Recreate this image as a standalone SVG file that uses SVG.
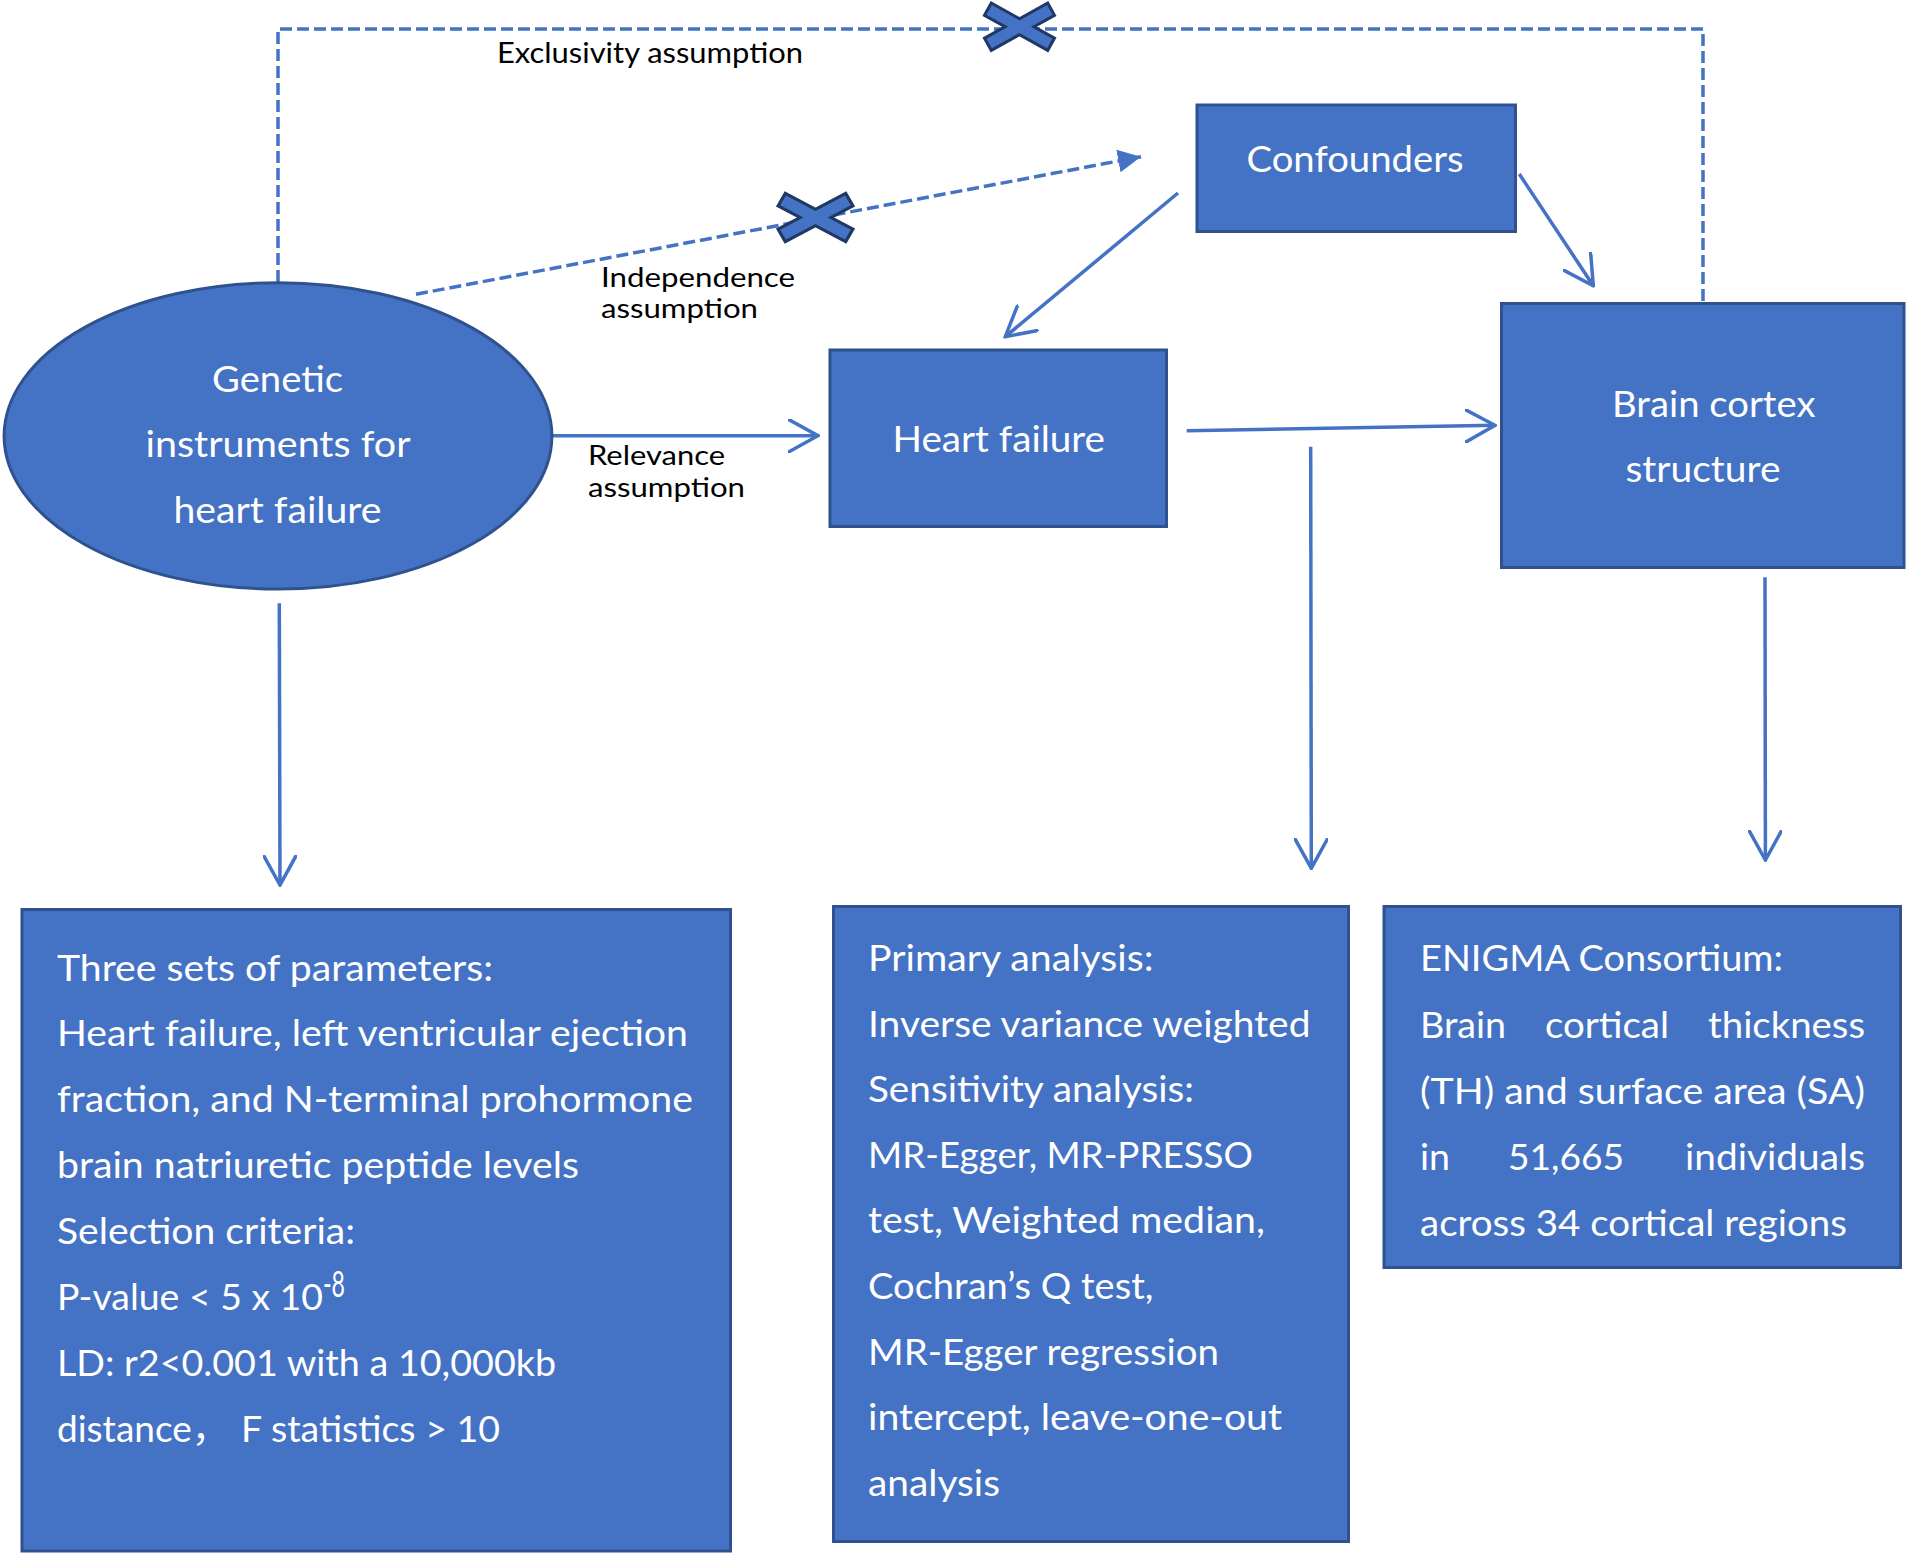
<svg xmlns="http://www.w3.org/2000/svg" xmlns:xlink="http://www.w3.org/1999/xlink" width="1908" height="1556" viewBox="0 0 1908 1556">
<style>
.bg{fill:#ffffff}
.box{fill:#4472C4;stroke:#2F528F;stroke-width:3}
.ln{fill:none;stroke:#4472C4;stroke-width:3.5;stroke-linecap:butt}
.dash{fill:none;stroke:#4472C4;stroke-width:3.5;stroke-dasharray:12 5}
.xm{fill:#4472C4;stroke:#1F3864;stroke-width:3;stroke-linejoin:miter}
.t{font-family:Lato,'Noto Sans CJK SC',sans-serif;font-size:37px;fill:#ffffff}
.lbl{font-family:Lato,'Noto Sans CJK SC',sans-serif;font-size:29px;fill:#000000}
.lbl2{font-family:Lato,'Noto Sans CJK SC',sans-serif;font-size:26px;fill:#000000}
</style>
<defs>
<marker id="open" viewBox="0 0 32 34" refX="30" refY="17" markerWidth="32" markerHeight="34" markerUnits="userSpaceOnUse" orient="auto">
<path d="M1,1 L30,17 L1,33" fill="none" stroke="#4472C4" stroke-width="3.5" stroke-linecap="round" stroke-linejoin="miter"/>
</marker>
<marker id="filled" viewBox="0 0 24 24" refX="23" refY="12" markerWidth="24" markerHeight="24" markerUnits="userSpaceOnUse" orient="auto">
<path d="M0,0.5 L23,12 L0,23.5 Z" fill="#4472C4"/>
</marker>
<polygon id="xshape" points="-35,-11.4 -28.22,-23.64 0,-8 28.22,-23.64 35,-11.4 14.44,0 35,11.4 28.22,23.64 0,8 -28.22,23.64 -35,11.4 -14.44,0"/>
</defs>
<rect class="bg" x="0" y="0" width="1908" height="1556"/>

<g id="connectors">
<path id="exclusivity" class="dash" d="M278,282 V29 H1703 V303"/>
<path id="independence" class="dash" d="M416,294.3 L1141,156.7" marker-end="url(#filled)"/>
<path id="relevance" class="ln" d="M552,435.7 H818" marker-end="url(#open)"/>
<path id="conf-hf" class="ln" d="M1178,193 L1005.3,336.7" marker-end="url(#open)"/>
<path id="conf-brain" class="ln" d="M1519.3,174 L1593.3,285.7" marker-end="url(#open)"/>
<path id="hf-brain" class="ln" d="M1186.7,430.7 L1495,425.3" marker-end="url(#open)"/>
<path id="to-analysis" class="ln" d="M1310.7,446.7 L1311.3,868.3" marker-end="url(#open)"/>
<path id="to-enigma" class="ln" d="M1765,577.3 L1765.4,860" marker-end="url(#open)"/>
<path id="to-params" class="ln" d="M279.3,603.3 L280,885" marker-end="url(#open)"/>
<use xlink:href="#xshape" class="xm" transform="translate(1019.5,26.7)"/>
<use xlink:href="#xshape" class="xm" transform="translate(815.5,217.5) scale(1.07,1.02)"/>
<text class="lbl" x="497" y="63" textLength="306" lengthAdjust="spacingAndGlyphs">Exclusivity assumption</text>
<text class="lbl2" x="601" y="286.7" textLength="194" lengthAdjust="spacingAndGlyphs">Independence</text>
<text class="lbl2" x="601" y="318" textLength="157" lengthAdjust="spacingAndGlyphs">assumption</text>
<text class="lbl2" x="588" y="465" textLength="137" lengthAdjust="spacingAndGlyphs">Relevance</text>
<text class="lbl2" x="588" y="496.7" textLength="157" lengthAdjust="spacingAndGlyphs">assumption</text>
</g>

<g id="node-genetic">
<ellipse class="box" cx="278" cy="435.9" rx="273.9" ry="153.2"/>
<text class="t" x="212" y="391.7" textLength="131" lengthAdjust="spacingAndGlyphs">Genetic</text>
<text class="t" x="145.5" y="457" textLength="265" lengthAdjust="spacingAndGlyphs">instruments for</text>
<text class="t" x="173.5" y="523" textLength="208" lengthAdjust="spacingAndGlyphs">heart failure</text>
</g>

<g id="node-confounders">
<rect class="box" x="1197" y="105" width="318.5" height="126.5"/>
<text class="t" x="1246.5" y="171.7" textLength="217" lengthAdjust="spacingAndGlyphs">Confounders</text>
</g>

<g id="node-heart-failure">
<rect class="box" x="830" y="350" width="336.5" height="176.5"/>
<text class="t" x="892.5" y="451.7" textLength="212.5" lengthAdjust="spacingAndGlyphs">Heart failure</text>
</g>

<g id="node-brain">
<rect class="box" x="1501.5" y="303.5" width="402.5" height="264"/>
<text class="t" x="1612" y="416.7" textLength="203.5" lengthAdjust="spacingAndGlyphs">Brain cortex</text>
<text class="t" x="1625.5" y="481.7" textLength="155" lengthAdjust="spacingAndGlyphs">structure</text>
</g>

<g id="node-parameters">
<rect class="box" x="22" y="909.5" width="708.5" height="641.5"/>
<text class="t" x="57" y="980.5" textLength="436" lengthAdjust="spacingAndGlyphs">Three sets of parameters:</text>
<text class="t" x="57" y="1046.4" textLength="631" lengthAdjust="spacingAndGlyphs">Heart failure, left ventricular ejection</text>
<text class="t" x="57" y="1112.3" textLength="636" lengthAdjust="spacingAndGlyphs">fraction, and N-terminal prohormone</text>
<text class="t" x="57" y="1178.2" textLength="522" lengthAdjust="spacingAndGlyphs">brain natriuretic peptide levels</text>
<text class="t" x="57" y="1244.1" textLength="298" lengthAdjust="spacingAndGlyphs">Selection criteria:</text>
<text class="t" x="57" y="1310" textLength="266" lengthAdjust="spacingAndGlyphs">P-value &lt; 5 x 10</text>
<text class="t" x="323" y="1297" font-size="23" textLength="22" lengthAdjust="spacingAndGlyphs">-8</text>
<text class="t" x="57" y="1375.9" textLength="499" lengthAdjust="spacingAndGlyphs">LD: r2&lt;0.001 with a 10,000kb</text>
<text class="t" y="1441.8"><tspan x="57">distance， </tspan><tspan x="241" textLength="259" lengthAdjust="spacingAndGlyphs">F statistics &gt; 10</tspan></text>
</g>

<g id="node-analysis">
<rect class="box" x="833.5" y="906.5" width="515" height="635"/>
<text class="t" x="868" y="971" textLength="285.5" lengthAdjust="spacingAndGlyphs">Primary analysis:</text>
<text class="t" x="868" y="1036.6" textLength="442.5" lengthAdjust="spacingAndGlyphs">Inverse variance weighted</text>
<text class="t" x="868" y="1102.2" textLength="326" lengthAdjust="spacingAndGlyphs">Sensitivity analysis:</text>
<text class="t" x="868" y="1167.8" textLength="385" lengthAdjust="spacingAndGlyphs">MR-Egger, MR-PRESSO</text>
<text class="t" x="868" y="1233.4" textLength="397" lengthAdjust="spacingAndGlyphs">test, Weighted median,</text>
<text class="t" x="868" y="1299" textLength="285.5" lengthAdjust="spacingAndGlyphs">Cochran’s Q test,</text>
<text class="t" x="868" y="1364.6" textLength="351" lengthAdjust="spacingAndGlyphs">MR-Egger regression</text>
<text class="t" x="868" y="1430.2" textLength="414" lengthAdjust="spacingAndGlyphs">intercept, leave-one-out</text>
<text class="t" x="868" y="1495.8" textLength="132" lengthAdjust="spacingAndGlyphs">analysis</text>
</g>

<g id="node-enigma">
<rect class="box" x="1384" y="906.5" width="516.5" height="361"/>
<text class="t" x="1420" y="971" textLength="363" lengthAdjust="spacingAndGlyphs">ENIGMA Consortium:</text>
<text class="t" y="1037.6"><tspan x="1420" textLength="86" lengthAdjust="spacingAndGlyphs">Brain</tspan> <tspan x="1545" textLength="124" lengthAdjust="spacingAndGlyphs">cortical</tspan> <tspan x="1708" textLength="157" lengthAdjust="spacingAndGlyphs">thickness</tspan></text>
<text class="t" x="1420" y="1104" textLength="445" lengthAdjust="spacingAndGlyphs">(TH) and surface area (SA)</text>
<text class="t" y="1170"><tspan x="1420" textLength="30" lengthAdjust="spacingAndGlyphs">in</tspan> <tspan x="1508" textLength="116" lengthAdjust="spacingAndGlyphs">51,665</tspan> <tspan x="1685" textLength="180" lengthAdjust="spacingAndGlyphs">individuals</tspan></text>
<text class="t" x="1420" y="1236" textLength="427" lengthAdjust="spacingAndGlyphs">across 34 cortical regions</text>
</g>
</svg>
